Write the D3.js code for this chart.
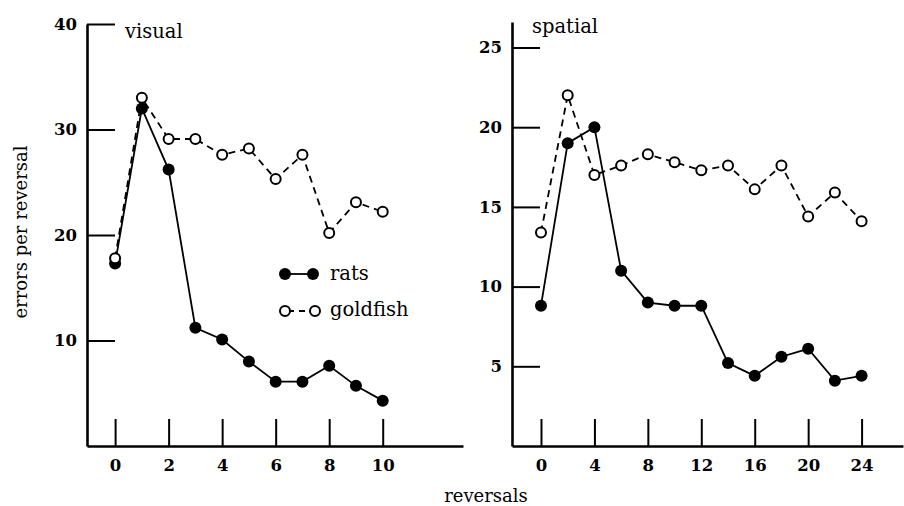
<!DOCTYPE html>
<html>
<head>
<meta charset="utf-8">
<script src="https://cdn.jsdelivr.net/npm/d3@7"></script>
<style>
  body { margin: 0; background: #fff; }
  svg { display: block; }
  .tick text { font-family: "DejaVu Serif", serif; font-weight: bold; font-size: 16.5px; fill: #000; }
  .lbl { font-family: "DejaVu Serif", serif; font-size: 18px; fill: #000; }
  .title { font-family: "DejaVu Serif", serif; font-size: 19.5px; fill: #000; }
</style>
</head>
<body>
<div id="chart"></div>
<script>
// visual reversal task
var visualReversals = [0, 1, 2, 3, 4, 5, 6, 7, 8, 9, 10];
var visualRats = [17.3, 32.0, 26.2, 11.2, 10.1, 8.0, 6.1, 6.1, 7.6, 5.7, 4.3];
var visualGoldfish = [17.8, 33.0, 29.1, 29.1, 27.6, 28.2, 25.3, 27.6, 20.2, 23.1, 22.2];
var visualYTicks = [10, 20, 30, 40];
var visualXTicks = [0, 2, 4, 6, 8, 10];

// spatial reversal task
var spatialReversals = [0, 2, 4, 6, 8, 10, 12, 14, 16, 18, 20, 22, 24];
var spatialRats = [8.8, 19.0, 20.0, 11.0, 9.0, 8.8, 8.8, 5.2, 4.4, 5.6, 6.1, 4.1, 4.4];
var spatialGoldfish = [13.4, 22.0, 17.0, 17.6, 18.3, 17.8, 17.3, 17.6, 16.1, 17.6, 14.4, 15.9, 14.1];
var spatialYTicks = [5, 10, 15, 20, 25];
var spatialXTicks = [0, 4, 8, 12, 16, 20, 24];

var width = 904, height = 506;

var svg = d3.select("#chart").append("svg")
  .attr("width", width)
  .attr("height", height);

function drawPanel(p) {
  var x = d3.scaleLinear().domain(p.xDomain).range(p.xRange);
  var y = d3.scaleLinear().domain(p.yDomain).range(p.yRange);

  // y axis, ticks pointing inward
  var yAxis = svg.append("g")
    .attr("transform", "translate(" + p.xRange[0] + ",0)")
    .call(d3.axisLeft(y).tickValues(p.yTicks).tickSizeInner(-28).tickSizeOuter(0).tickPadding(10));

  // x axis, ticks pointing up
  var xAxis = svg.append("g")
    .attr("transform", "translate(0," + p.yRange[0] + ")")
    .call(d3.axisBottom(x).tickValues(p.xTicks).tickSizeInner(-27).tickSizeOuter(0).tickPadding(13));

  [yAxis, xAxis].forEach(function (g) {
    g.select(".domain").attr("stroke", "#000").attr("stroke-width", 2.6);
    g.selectAll(".tick line").attr("stroke", "#000").attr("stroke-width", 2);
  });

  var line = d3.line()
    .x(function (d) { return x(d[0]); })
    .y(function (d) { return y(d[1]); });

  var rats = d3.zip(p.reversals, p.rats);
  var fish = d3.zip(p.reversals, p.goldfish);

  svg.append("path")
    .datum(rats)
    .attr("d", line)
    .attr("fill", "none")
    .attr("stroke", "#000")
    .attr("stroke-width", 1.8);

  svg.selectAll(null)
    .data(rats)
    .enter()
    .append("circle")
    .attr("cx", function (d) { return x(d[0]); })
    .attr("cy", function (d) { return y(d[1]); })
    .attr("r", 6)
    .attr("fill", "#000");

  svg.append("path")
    .datum(fish)
    .attr("d", line)
    .attr("fill", "none")
    .attr("stroke", "#000")
    .attr("stroke-width", 1.8)
    .attr("stroke-dasharray", "7,5");

  svg.selectAll(null)
    .data(fish)
    .enter()
    .append("circle")
    .attr("cx", function (d) { return x(d[0]); })
    .attr("cy", function (d) { return y(d[1]); })
    .attr("r", 5)
    .attr("fill", "#fff")
    .attr("stroke", "#000")
    .attr("stroke-width", 2);

  svg.append("text")
    .attr("class", "title")
    .attr("x", p.titlePos[0])
    .attr("y", p.titlePos[1])
    .text(p.title);
}

drawPanel({
  title: "visual", titlePos: [125, 38],
  reversals: visualReversals, rats: visualRats, goldfish: visualGoldfish,
  xTicks: visualXTicks, yTicks: visualYTicks,
  xDomain: [-1.05, 13], xRange: [87, 463],
  yDomain: [0, 40], yRange: [446, 24]
});

drawPanel({
  title: "spatial", titlePos: [532, 33],
  reversals: spatialReversals, rats: spatialRats, goldfish: spatialGoldfish,
  xTicks: spatialXTicks, yTicks: spatialYTicks,
  xDomain: [-2.17, 27.1], xRange: [512, 903],
  yDomain: [0, 26.6], yRange: [446, 22]
});

// legend
var legend = svg.append("g");
legend.append("line")
  .attr("x1", 285).attr("x2", 313).attr("y1", 274).attr("y2", 274)
  .attr("stroke", "#000").attr("stroke-width", 1.8);
legend.selectAll(null)
  .data([285, 313]).enter().append("circle")
  .attr("cx", function (d) { return d; }).attr("cy", 274).attr("r", 6).attr("fill", "#000");
legend.append("text").attr("class", "title").attr("x", 330).attr("y", 280).text("rats");

legend.append("line")
  .attr("x1", 285).attr("x2", 315).attr("y1", 311).attr("y2", 311)
  .attr("stroke", "#000").attr("stroke-width", 1.8)
  .attr("stroke-dasharray", "6,5").attr("stroke-dashoffset", -3);
legend.selectAll(null)
  .data([285, 315]).enter().append("circle")
  .attr("cx", function (d) { return d; }).attr("cy", 311).attr("r", 5)
  .attr("fill", "#fff").attr("stroke", "#000").attr("stroke-width", 2);
legend.append("text").attr("class", "title").attr("x", 330).attr("y", 316).text("goldfish");

// axis titles
svg.append("text")
  .attr("class", "lbl")
  .attr("transform", "translate(27,232) rotate(-90)")
  .attr("text-anchor", "middle")
  .text("errors per reversal");

svg.append("text")
  .attr("class", "lbl")
  .attr("x", 486)
  .attr("y", 502)
  .attr("text-anchor", "middle")
  .text("reversals");
</script>
</body>
</html>
